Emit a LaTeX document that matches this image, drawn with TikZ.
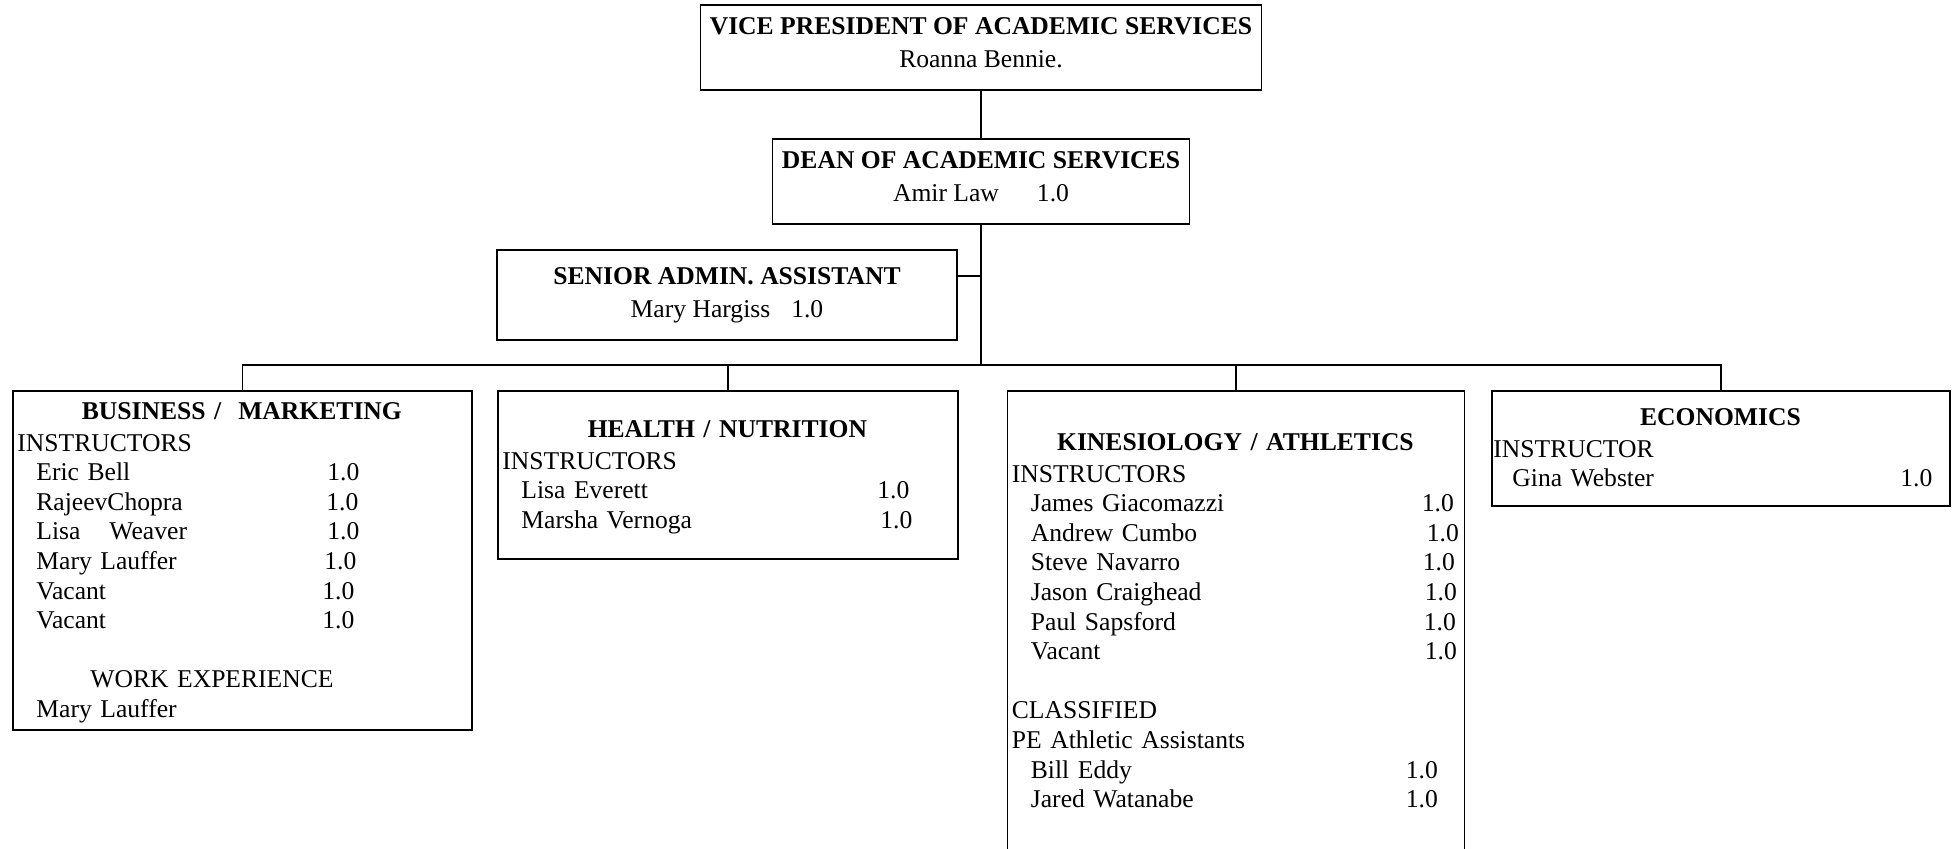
\documentclass[tikz,border=0pt]{standalone}
\usepackage{fontspec}
\setmainfont{Liberation Serif}
\usetikzlibrary{positioning}
\setlength{\parindent}{0pt}

\tikzset{
    unit/.style={draw, line width=0.75pt, inner sep=0pt, anchor=north west},
    head/.style={draw, line width=0.75pt, inner sep=0pt, align=center,
                 font=\fontsize{12.8}{16.5}\selectfont},
    roster/.style={inner sep=0pt, align=left, anchor=north west,
                   font=\fontsize{12.8}{14.8}\selectfont},
    link/.style={line width=0.75pt},
}
% one staff line: indent, name column, FTE value
\newcommand{\fte}[3]{\hspace*{9.5pt}\makebox[#1][l]{#2}\makebox[0pt][l]{#3}}
% centred department title
\newcommand{\dept}[1]{\rule{0pt}{10pt}\makebox[\hsize]{\textbf{#1}}}

\begin{document}
\begin{tikzpicture}[x=0.5pt, y=-0.5pt]
    \useasboundingbox (0,0) rectangle (1959,848);
    %
        % Direzione
    \node[head, minimum width=280.5pt, minimum height=42.5pt] (vp) at (981,47.5)
        {\textbf{VICE PRESIDENT OF ACADEMIC SERVICES}\\Roanna Bennie.\rule[-5pt]{0pt}{0pt}};
    \node[head, minimum width=208.5pt, minimum height=42.5pt] (dean) at (981,181.5)
        {\textbf{DEAN OF ACADEMIC SERVICES}\\Amir Law\hspace{19pt}1.0\rule[-5pt]{0pt}{0pt}};
    \node[head, minimum width=230pt, minimum height=45pt] (sa) at (727,295)
        {\textbf{SENIOR ADMIN. ASSISTANT}\\Mary Hargiss\hspace{10.5pt}1.0};
    %
        % Riquadri dei dipartimenti
    \node[unit, minimum width=229.5pt, minimum height=169.5pt] (busn) at (12,390) {};
    \node[unit, minimum width=230pt, minimum height=84pt] (hlth) at (497,390) {};
    \node[unit, minimum width=228.5pt, minimum height=240pt] (kine) at (1006.5,390) {};
    \node[unit, minimum width=229pt, minimum height=57.5pt] (econ) at (1491,390) {};
    %
        % Business / Marketing
    \node[roster, text width=224.5pt, below right=4.5pt and 2.5pt of busn.north west] (busn-list) {%
        \dept{BUSINESS / \ MARKETING}\\[1pt]
        INSTRUCTORS\\
        \fte{145.5pt}{Eric Bell}{1.0}\\
        \fte{145pt}{RajeevChopra}{1.0}\\
        \fte{145.5pt}{Lisa\hspace{14.5pt}Weaver}{1.0}\\
        \fte{144pt}{Mary Lauffer}{1.0}\\
        \fte{143pt}{Vacant}{1.0}\\
        \fte{143pt}{Vacant}{1.0}\\
        ~\\
        \hspace*{36.5pt}WORK EXPERIENCE\\
        \hspace*{9.5pt}Mary Lauffer};
    %
        % Health / Nutrition
    \node[roster, text width=225pt, below right=13.5pt and 2.5pt of hlth.north west] (hlth-list) {%
        \dept{HEALTH / NUTRITION}\\[1pt]
        INSTRUCTORS\\
        \fte{178pt}{Lisa Everett}{1.0}\\
        \fte{179.5pt}{Marsha Vernoga}{1.0}};
    %
        % Kinesiology / Athletics
    \node[roster, text width=223.5pt, below right=20pt and 2.5pt of kine.north west] (kine-list) {%
        \dept{KINESIOLOGY / ATHLETICS}\\[1pt]
        INSTRUCTORS\\
        \fte{195.5pt}{James Giacomazzi}{1.0}\\
        \fte{198pt}{Andrew Cumbo}{1.0}\\
        \fte{196pt}{Steve Navarro}{1.0}\\
        \fte{197pt}{Jason Craighead}{1.0}\\
        \fte{196.5pt}{Paul Sapsford}{1.0}\\
        \fte{197pt}{Vacant}{1.0}\\
        ~\\
        CLASSIFIED\\
        PE Athletic Assistants\\
        \fte{187.5pt}{Bill Eddy}{1.0}\\
        \fte{187.5pt}{Jared Watanabe}{1.0}};
    %
        % Economics
    \node[roster, text width=227pt, below right=7.5pt and 1pt of econ.north west] (econ-list) {%
        \dept{ECONOMICS}\\[1pt]
        INSTRUCTOR\\
        \fte{194pt}{Gina Webster}{1.0}};
    %
        % Collegamenti
    \coordinate (hub) at (981,365);
    \coordinate (tap) at (981,276);
    \draw[link] (vp.south) -- (dean.north);
    \draw[link] (dean.south) -- (hub);
    \draw[link] (sa.east |- tap) -- (tap);
    \draw[link] (busn.north) |- (hub) -| (econ.north);
    \draw[link] (hlth.north) -- (hlth.north |- hub);
    \draw[link] (kine.north) -- (kine.north |- hub);
\end{tikzpicture}
\end{document}
